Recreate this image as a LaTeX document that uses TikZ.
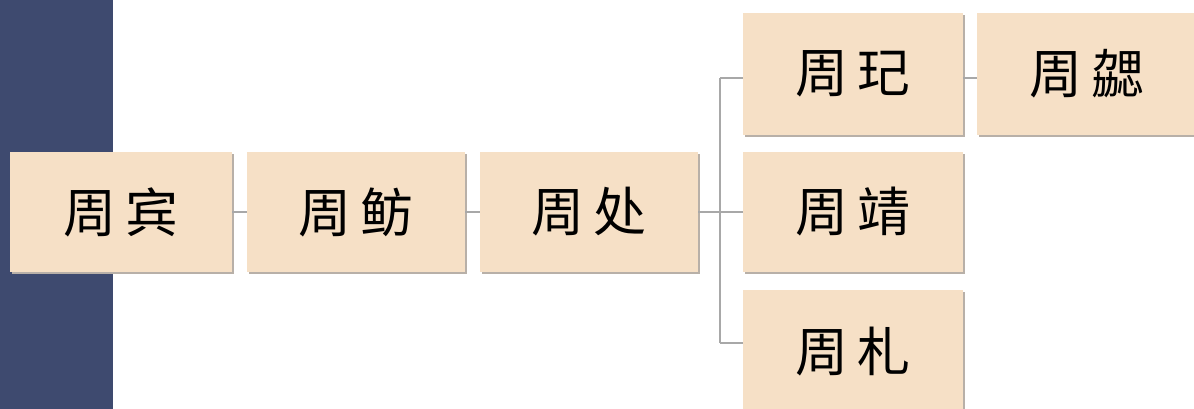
\documentclass[tikz,border=0pt]{standalone}
\usepackage{fontspec}
\newfontfamily\cjk{Noto Sans CJK SC}
\definecolor{barblue}{HTML}{3E4A6F}
\definecolor{boxfill}{HTML}{F6E0C6}
\definecolor{linegray}{HTML}{A8A8A8}
\definecolor{shadowgray}{HTML}{B8B0A8}
\begin{document}
\begin{tikzpicture}[x=1pt,y=-1pt,
  person/.style={fill=boxfill, minimum width=221pt, minimum height=120pt, inner sep=0pt,
    font=\cjk\fontsize{53}{60}\selectfont, text=black},
  link/.style={draw=linegray, line width=2pt}]
\useasboundingbox (0,0) rectangle (1194,409);
\fill[white] (0,0) rectangle (1194,409);
\fill[barblue] (0,0) rectangle (113,409);
% shadows
\foreach \x/\y/\w/\h in {10/152/222/120, 247/152/218/120, 480/152/218/120, 743/13/220/122, 977/13/220/122, 743/152/220/120, 743/290/220/125}
  \fill[shadowgray] (\x+2,\y+2) rectangle (\x+\w+2,\y+\h+2);
\node[person, minimum width=222pt, minimum height=120pt] (bin) at (121,212) {周\hspace{10pt}宾};
\node[person, minimum width=218pt, minimum height=120pt] (fang) at (356,212) {周\hspace{10pt}鲂};
\node[person, minimum width=218pt, minimum height=120pt] (chu) at (589,212) {周\hspace{10pt}处};
\node[person, minimum width=220pt, minimum height=122pt] (qi) at (853,74) {周\hspace{10pt}玘};
\node[person, minimum width=220pt, minimum height=122pt] (xie) at (1087,74) {周\hspace{10pt}勰};
\node[person, minimum width=220pt, minimum height=120pt] (jing) at (853,212) {周\hspace{10pt}靖};
\node[person, minimum width=220pt, minimum height=125pt] (zha) at (853,352) {周\hspace{10pt}札};
\coordinate (fork) at (720,212);
\coordinate (topc) at (720,78);
\coordinate (botc) at (720,343);
\draw[link] (bin.east) -- (fang.west);
\draw[link] (fang.east) -- (chu.west);
\draw[link] (chu.east) -- (fork);
\draw[link] (topc) -- (botc);
\draw[link] (topc) -- (topc -| qi.west);
\draw[link] (fork) -- (jing.west);
\draw[link] (botc) -- (botc -| zha.west);
\draw[link] (qi.east |- topc) -- (xie.west |- topc);
\end{tikzpicture}
\end{document}
